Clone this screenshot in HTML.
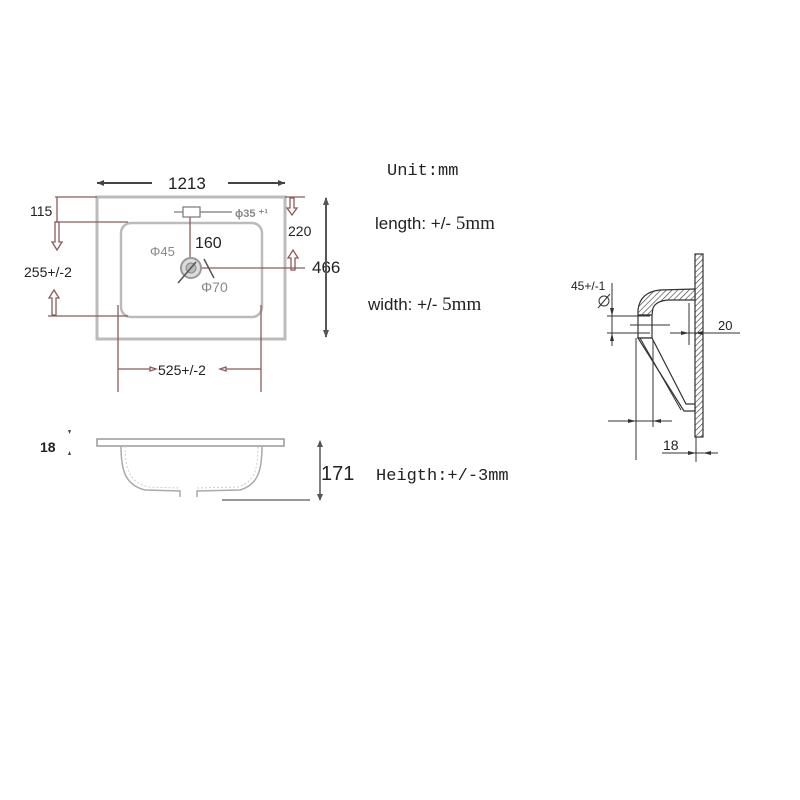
<!DOCTYPE html>
<html><head><meta charset="utf-8"><style>
html,body{margin:0;padding:0;background:#fff;}
svg{display:block}
</style></head><body>
<svg width="800" height="800" viewBox="0 0 800 800" xmlns="http://www.w3.org/2000/svg">
<defs>
<pattern id="h" width="4" height="4" patternUnits="userSpaceOnUse" patternTransform="rotate(45)">
<rect width="4" height="4" fill="#fff"/><line x1="0" y1="0" x2="0" y2="4" stroke="#333" stroke-width="1.2"/></pattern>
</defs>
<g font-family="Liberation Sans, sans-serif" fill="#222">
<!-- top view -->
<rect x="97" y="197" width="188" height="142" fill="none" stroke="#bbb" stroke-width="3"/>
<rect x="121" y="223" width="141" height="94" rx="10" fill="none" stroke="#bbb" stroke-width="2.5"/>
<line x1="97" y1="183" x2="152" y2="183" stroke="#444" stroke-width="2"/>
<polygon points="97,183 104,180 104,186" fill="#444"/>
<line x1="228" y1="183" x2="285" y2="183" stroke="#444" stroke-width="2"/>
<polygon points="285,183 278,180 278,186" fill="#444"/>
<text x="168" y="189" font-size="17">1213</text>
<g stroke="#8b5a5a" stroke-width="1.3" fill="none">
<line x1="55" y1="197" x2="97" y2="197"/>
<line x1="57" y1="197" x2="57" y2="222"/>
<line x1="55" y1="222" x2="128" y2="222"/>
<polygon points="55,222 59,222 59,242 62,242 57,250 52,242 55,242"/>
<polygon points="52,315 56,315 56,298 59,298 54,290 49,298 52,298"/>
<line x1="48" y1="316" x2="128" y2="316"/>
<line x1="285" y1="197" x2="305" y2="197"/>
<polygon points="290,198 294,198 294,208 297,208 292,215 287,208 290,208"/>
<polygon points="291,270 295,270 295,258 298,258 293,250 288,258 291,258"/>
<line x1="190" y1="268" x2="305" y2="268"/>
<line x1="190" y1="216" x2="190" y2="268"/>
<line x1="118" y1="305" x2="118" y2="392"/>
<line x1="261" y1="305" x2="261" y2="392"/>
<line x1="118" y1="369" x2="150" y2="369"/>
<polygon points="150,367 156,369 150,371"/>
<line x1="226" y1="369" x2="261" y2="369"/>
<polygon points="226,367 220,369 226,371"/>
</g>
<text x="30" y="216" font-size="14">115</text>
<text x="24" y="277" font-size="14">255+/-2</text>
<text x="288" y="236" font-size="14">220</text>
<text x="312" y="273" font-size="17">466</text>
<text x="158" y="375" font-size="14">525+/-2</text>
<line x1="326" y1="198" x2="326" y2="337" stroke="#555" stroke-width="2"/>
<polygon points="326,197 323,205 329,205" fill="#555"/>
<polygon points="326,338 323,330 329,330" fill="#555"/>
<rect x="183" y="207" width="17" height="10" fill="#fff" stroke="#777" stroke-width="1.2"/>
<line x1="200" y1="212" x2="232" y2="212" stroke="#777" stroke-width="1.2"/>
<line x1="174" y1="212" x2="183" y2="212" stroke="#777" stroke-width="1.2"/>
<text x="235" y="217" font-size="11" fill="#888" font-weight="bold">ϕ35 ⁺¹</text>
<text x="195" y="248" font-size="16">160</text>
<text x="150" y="256" font-size="13" fill="#888">Φ45</text>
<circle cx="191" cy="268" r="10" fill="#ddd" stroke="#999" stroke-width="2"/>
<circle cx="191" cy="268" r="5" fill="#bbb" stroke="#888"/>
<line x1="178" y1="283" x2="196" y2="262" stroke="#555" stroke-width="1.5"/>
<line x1="204" y1="259" x2="214" y2="278" stroke="#555" stroke-width="1.5"/>
<text x="201" y="292" font-size="14" fill="#888">Φ70</text>
<!-- side view -->
<rect x="97" y="439" width="187" height="7" fill="none" stroke="#999" stroke-width="1.5"/>
<path d="M121 446 C121 470 125 485 145 490 L180 491 L180 497 M197 497 L197 491 L240 490 C258 485 262 470 262 446" fill="none" stroke="#aaa" stroke-width="1.5"/>
<path d="M125 446 C125 468 129 482 148 487 L180 488 M197 488 L238 487 C255 482 258 468 258 446" fill="none" stroke="#ccc" stroke-width="1" stroke-dasharray="2,2"/>
<text x="40" y="452" font-size="14" font-weight="bold">18</text>
<polygon points="68,430 71,430 69.5,434" fill="#444"/>
<polygon points="68,455 71,455 69.5,451" fill="#444"/>
<line x1="320" y1="441" x2="320" y2="500" stroke="#555" stroke-width="1.5"/>
<polygon points="320,440 317,447 323,447" fill="#555"/>
<polygon points="320,501 317,494 323,494" fill="#555"/>
<line x1="222" y1="500" x2="310" y2="500" stroke="#777" stroke-width="1.5"/>
<text x="321" y="480" font-size="20">171</text>
<!-- texts -->
<text x="387" y="175" font-size="17" font-family="Liberation Mono, monospace">Unit:mm</text>
<text x="375" y="229" font-size="17">length: +/- <tspan font-family="Liberation Serif, serif" font-size="19">5mm</tspan></text>
<text x="368" y="310" font-size="17">width:  +/- <tspan font-family="Liberation Serif, serif" font-size="19">5mm</tspan></text>
<text x="376" y="480" font-size="17" font-family="Liberation Mono, monospace">Heigth:+/-3mm</text>
<!-- section -->
<rect x="695" y="254" width="8" height="183" fill="url(#h)" stroke="#333" stroke-width="1.2"/>
<path d="M695 289 L660 290 Q640 292 638 310 L638 315 L652 315 L653 308 Q656 301 668 300 L695 300 Z" fill="url(#h)" stroke="#333" stroke-width="1.2"/>
<rect x="638" y="315" width="14" height="23" fill="#fff" stroke="#333" stroke-width="1.2"/>
<path d="M638 338 L652 338 L686 404 L695 404 L695 411 L684 411 Z" fill="#fff" stroke="#333" stroke-width="1.2"/>
<path d="M652 338 L640 338 L681 410" fill="none" stroke="#333" stroke-width="1"/>
<g stroke="#333" stroke-width="1" fill="none">
<line x1="689" y1="303" x2="689" y2="345"/>
<line x1="670" y1="333" x2="740" y2="333"/>
<line x1="636" y1="338" x2="636" y2="460"/>
<line x1="653" y1="340" x2="653" y2="427"/>
<line x1="608" y1="421" x2="672" y2="421"/>
<line x1="696" y1="437" x2="696" y2="462"/>
<line x1="662" y1="453" x2="718" y2="453"/>
<line x1="612" y1="283" x2="612" y2="346"/>
<line x1="607" y1="316" x2="650" y2="316"/>
<line x1="607" y1="333" x2="650" y2="333"/>
<line x1="630" y1="325" x2="670" y2="325"/>
<circle cx="604" cy="301" r="5"/>
<line x1="598" y1="308" x2="610" y2="294"/>
</g>
<polygon points="689,333 681,331 681,335" fill="#333"/>
<polygon points="695,333 703,331 703,335" fill="#333"/>
<polygon points="636,421 628,419 628,423" fill="#333"/>
<polygon points="653,421 661,419 661,423" fill="#333"/>
<polygon points="696,453 688,451 688,455" fill="#333"/>
<polygon points="703,453 711,451 711,455" fill="#333"/>
<polygon points="612,316 610,308 614,308" fill="#333"/>
<polygon points="612,333 610,341 614,341" fill="#333"/>
<text x="571" y="290" font-size="12">45+/-1</text>
<text x="718" y="330" font-size="13">20</text>
<text x="663" y="450" font-size="14">18</text>
</g>
</svg>
</body></html>
